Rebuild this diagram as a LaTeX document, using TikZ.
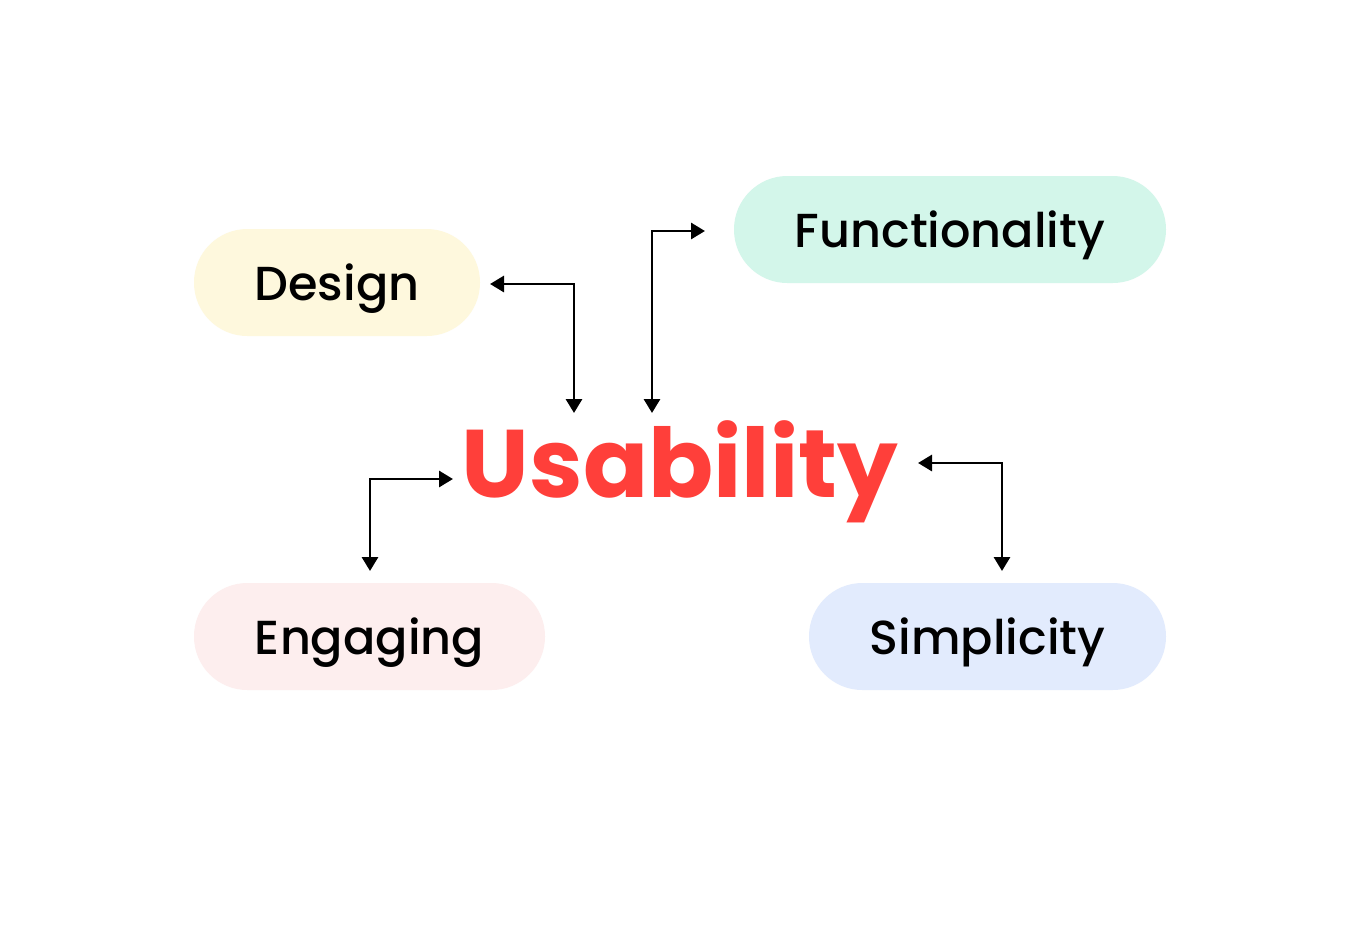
\documentclass[tikz,border=0pt]{standalone}
\usepackage{fontspec}
\setmainfont{Poppins}
\newfontfamily\pmed{Poppins Medium}
\usetikzlibrary{arrows.meta}
\definecolor{cyellow}{HTML}{FEF8DD}
\definecolor{cmint}{HTML}{D3F6EA}
\definecolor{cpink}{HTML}{FDEEEE}
\definecolor{cblue}{HTML}{E2EBFD}
\definecolor{cred}{HTML}{FF3F3A}
\tikzset{
  pill/.style={rounded corners=40pt, minimum height=80.25pt, inner sep=0pt,
    font=\pmed\fontsize{35.8}{40}\selectfont, text=black, text height=26.25pt, text depth=0pt},
  conn/.style={line width=2.2pt, {Triangle[length=10.5pt,width=12pt]}-{Triangle[length=10.5pt,width=12pt]}},
}
\begin{document}
\begin{tikzpicture}[x=0.75pt,y=-0.75pt]
\useasboundingbox (0,0) rectangle (1357,926);
\fill[white] (0,0) rectangle (1357,926);
\node[pill, fill=cyellow, minimum width=214.5pt] (design) at (337,282.5) {Design};
\node[pill, fill=cmint, minimum width=324pt] (func) at (950,229.5) {Functionality};
\node[pill, fill=cpink, minimum width=263.25pt] (eng) at (369.5,636.5) {Engaging};
\node[pill, fill=cblue, minimum width=267.75pt] (simp) at (987.5,636.5) {Simplicity};
\node[anchor=base, inner sep=0pt, text=cred, font=\fontsize{72}{76}\selectfont\bfseries] (usab) at (680,497) {Usability};
% arrow end points
\coordinate (dE) at (490,284);
\coordinate (uD) at (574,413);
\coordinate (fW) at (705,231);
\coordinate (uF) at (652,413);
\coordinate (uW) at (453,479);
\coordinate (eN) at (370,571);
\coordinate (uE) at (918,463);
\coordinate (sN) at (1002,571);
\draw[conn] (dE) -| (uD);
\draw[conn] (fW) -| (uF);
\draw[conn] (uW) -| (eN);
\draw[conn] (uE) -| (sN);
\end{tikzpicture}
\end{document}
